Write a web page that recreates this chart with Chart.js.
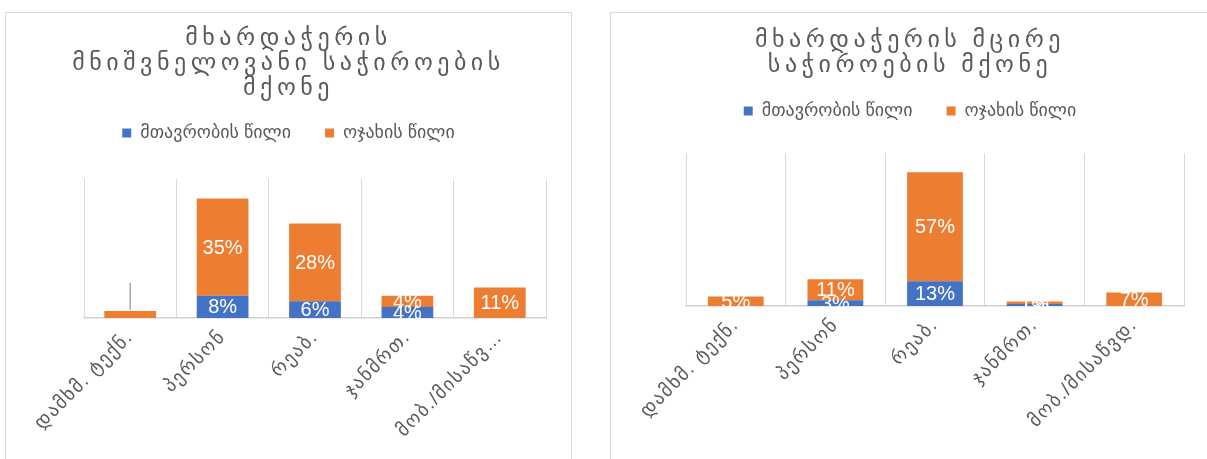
<!DOCTYPE html>
<html>
<head>
<meta charset="utf-8">
<script src="https://cdn.jsdelivr.net/npm/chart.js@4.4.1/dist/chart.umd.min.js"></script>
<style>
  html, body { margin: 0; padding: 0; background: #fff; overflow: hidden; }
  body { width: 1207px; height: 459px; position: relative; }
  .panel { position: absolute; top: 12px; border: 1px solid #d9d9d9; background: #fff; }
  #leftPanel { left: 5px; width: 565px; height: 470px; }
  #rightPanel { left: 610px; width: 598px; height: 470px; }
  canvas { display: block; }
</style>
</head>
<body>
<div class="panel" id="leftPanel"><canvas id="chartLeft" width="565" height="460"></canvas></div>
<div class="panel" id="rightPanel"><canvas id="chartRight" width="598" height="460"></canvas></div>
<script>
// data
const seriesNames = ['მთავრობის წილი', 'ოჯახის წილი']
const titleLeft = ['მხარდაჭერის', 'მნიშვნელოვანი საჭიროების', 'მქონე']
const titleRight = ['მხარდაჭერის მცირე', 'საჭიროების მქონე']
const categoriesLeft = ['დამხმ. ტექნ.', 'პერსონ', 'რეაბ.', 'ჯანმრთ.', 'მობ./მისაწვ…']
const categoriesRight = ['დამხმ. ტექნ.', 'პერსონ', 'რეაბ.', 'ჯანმრთ.', 'მობ./მისაწვდ.']
const govLeft = [0, 0.08, 0.06, 0.04, 0]
const familyLeft = [0.025, 0.35, 0.28, 0.04, 0.11]
const govRight = [0, 0.03, 0.13, 0.01, 0]
const familyRight = [0.05, 0.11, 0.57, 0.014, 0.07]

const FONT = '"Liberation Sans", "DejaVu Sans", sans-serif'
const GREY = '#595959'
const BLUE = '#4472C4'
const ORANGE = '#ED7D31'

// white % labels in the middle of each segment, clipped to the plot
const segmentLabels = {
    id: 'segmentLabels',
    afterDatasetsDraw(chart, args, opts) {
        const { ctx, chartArea } = chart
        ctx.save()
        ctx.beginPath()
        ctx.rect(chartArea.left, chartArea.top, chartArea.right - chartArea.left, chartArea.bottom - chartArea.top + 1)
        ctx.clip()
        ctx.font = '20px ' + FONT
        ctx.fillStyle = '#fff'
        ctx.textAlign = 'center'
        ctx.textBaseline = 'middle'
        chart.data.datasets.forEach((ds, di) => {
            chart.getDatasetMeta(di).data.forEach((bar, i) => {
                const v = ds.data[i]
                if (!v) return
                if (opts.leader && opts.leader[0] === di && opts.leader[1] === i) {
                    // label was dragged away, only its leader line is left
                    ctx.strokeStyle = '#a6a6a6'
                    ctx.lineWidth = 1.5
                    ctx.beginPath()
                    ctx.moveTo(bar.x, bar.y - 1)
                    ctx.lineTo(bar.x, bar.y - 28)
                    ctx.stroke()
                    return
                }
                ctx.fillText(Math.round(v * 100) + '%', bar.x, (bar.y + bar.base) / 2 + 1)
            })
        })
        ctx.restore()
    }
}

// letter spacing for title and category labels
const spacedText = {
    id: 'spacedText',
    beforeDraw(chart) {
        const ctx = chart.ctx
        const wrap = (obj, fn, sp) => {
            if (!obj || obj['_sp_' + fn]) return
            const orig = obj[fn]
            obj[fn] = function (...a) {
                ctx.save()
                ctx.letterSpacing = sp
                orig.apply(this, a)
                ctx.restore()
            }
            obj['_sp_' + fn] = true
        }
        wrap(chart.titleBlock, 'draw', '4.5px')
        wrap(chart.scales.x, 'drawLabels', '1.5px')
    }
}

function makeChart(id, cfg) {
    const ctx = document.getElementById(id).getContext('2d')
    return new Chart(ctx, {
        type: 'bar',
        data: {
            labels: cfg.categories,
            datasets: [
                { label: seriesNames[0], data: cfg.gov, backgroundColor: BLUE },
                { label: seriesNames[1], data: cfg.family, backgroundColor: ORANGE }
            ]
        },
        options: {
            responsive: false,
            animation: false,
            devicePixelRatio: 1,
            layout: { padding: 0 },
            datasets: { bar: { barPercentage: 0.56, categoryPercentage: 1 } },
            plugins: {
                title: {
                    display: true,
                    text: cfg.title,
                    color: GREY,
                    font: { family: FONT, size: 24, weight: 'normal', lineHeight: 25 / 24 },
                    padding: { top: cfg.titleTop, bottom: cfg.titleBottom }
                },
                legend: {
                    display: true,
                    labels: {
                        color: GREY,
                        font: { family: FONT, size: 18 },
                        boxWidth: 9,
                        boxHeight: 9,
                        padding: 34
                    }
                },
                subtitle: {
                    display: true,
                    text: '',
                    weight: 500,
                    font: { size: 1, lineHeight: 1 },
                    padding: { top: 0, bottom: cfg.spacer }
                },
                tooltip: { enabled: false },
                segmentLabels: { leader: cfg.leader }
            },
            scales: {
                x: {
                    stacked: true,
                    grid: { color: '#d9d9d9', drawTicks: false, offset: true },
                    border: { color: '#d0d0d0', width: 1.5 },
                    ticks: {
                        color: GREY,
                        font: { family: FONT, size: 19 },
                        minRotation: 45,
                        maxRotation: 45,
                        padding: 8,
                        autoSkip: false
                    },
                    afterFit: s => { s.height = cfg.xHeight }
                },
                y: {
                    stacked: true,
                    min: 0,
                    max: cfg.yMax,
                    grid: { display: false },
                    border: { display: false },
                    ticks: { display: false },
                    afterFit: s => { s.width = cfg.leftW }
                },
                yR: {
                    position: 'right',
                    grid: { display: false },
                    border: { display: false },
                    ticks: { display: false },
                    afterFit: s => { s.width = cfg.rightW }
                }
            }
        },
        plugins: [segmentLabels, spacedText]
    })
}

makeChart('chartLeft', {
    categories: categoriesLeft, gov: govLeft, family: familyLeft, title: titleLeft,
    titleTop: 12.5, titleBottom: -10.5, spacer: 26, xHeight: 155, leftW: 78, rightW: 25,
    yMax: 0.5, leader: [1, 0]
})
makeChart('chartRight', {
    categories: categoriesRight, gov: govRight, family: familyRight, title: titleRight,
    titleTop: 14.5, titleBottom: -9.5, spacer: 22, xHeight: 167, leftW: 75, rightW: 25,
    yMax: 0.8, leader: null
})
console.log("charts drawn")
</script>
</body>
</html>
